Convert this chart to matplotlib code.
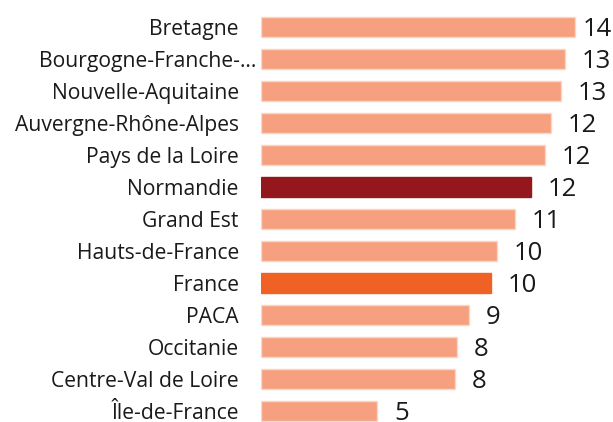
import matplotlib
matplotlib.use("Agg")
import matplotlib.pyplot as plt
import matplotlib.transforms as mtransforms

plt.rcParams["font.family"] = ["Open Sans", "DejaVu Sans"]

regions = ["Bretagne", "Bourgogne-Franche-…", "Nouvelle-Aquitaine", "Auvergne-Rhône-Alpes",
           "Pays de la Loire", "Normandie", "Grand Est", "Hauts-de-France", "France",
           "PACA", "Occitanie", "Centre-Val de Loire", "Île-de-France"]
values = [13.52, 13.09, 12.91, 12.48, 12.23, 11.62, 10.93, 10.16, 9.90, 8.95, 8.44, 8.35, 4.99]

LIGHT = "#F6A07F"
colors = [LIGHT] * len(regions)
colors[regions.index("Normandie")] = "#95171E"
colors[regions.index("France")] = "#F06125"
edges = ["#FBD5C6" if c == LIGHT else c for c in colors]

fig = plt.figure(figsize=(6.13, 4.22), dpi=100)
ax = fig.add_axes([261 / 613, 0, 352 / 613, 1])

y = list(range(len(regions)))
ax.barh(y, values, height=0.62, color=colors, edgecolor=edges, linewidth=1)

xmax = 352 / 23.23
ax.set_xlim(0, xmax)
ax.set_ylim((422 - 27) / 32, -27 / 32)

# value labels, a bit to the right and slightly below the bar centre
for yi, v in zip(y, values):
    txt = f"{v:.0f}"
    if v + 0.73 + 1.15 > xmax:
        ax.text(xmax - 0.05, yi + 0.07, txt, ha="right", va="center",
                fontsize=18.5, color="#1a1a1a")
    else:
        ax.text(v + 0.73, yi + 0.07, txt, ha="left", va="center",
                fontsize=18.5, color="#1a1a1a")

ax.set_yticks(y)
ax.set_yticklabels(regions, fontsize=15.2, color="#1a1a1a")
ax.tick_params(axis="y", length=0, pad=16)
ax.set_xticks([])
for s in ax.spines.values():
    s.set_visible(False)

# truncated label overflows a little to the right
lab = ax.get_yticklabels()[1]
lab.set_transform(lab.get_transform() + mtransforms.ScaledTranslation(18 / 100, 0, fig.dpi_scale_trans))

fig.savefig("out.png", dpi=100)
